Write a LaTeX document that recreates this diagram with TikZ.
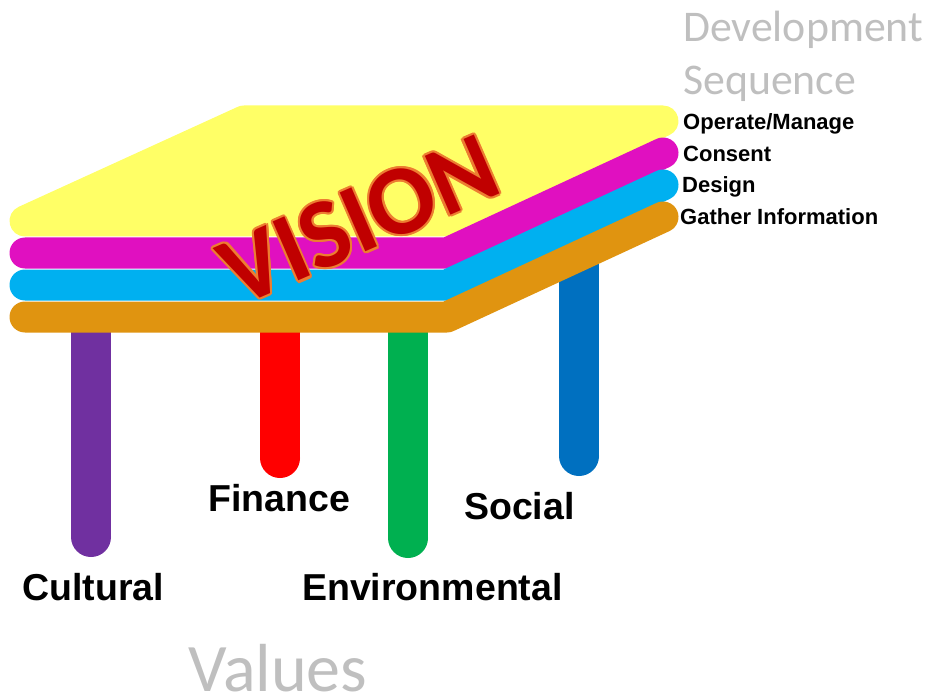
\documentclass[tikz,border=0pt]{standalone}
\usepackage{fontspec}
\setmainfont{Liberation Sans}
\newfontfamily\calfont{Carlito}
\definecolor{cyel}{HTML}{FFFF66}
\definecolor{cmag}{HTML}{E010C0}
\definecolor{ccya}{HTML}{00B0F0}
\definecolor{cora}{HTML}{E09410}
\definecolor{cpur}{HTML}{7030A0}
\definecolor{cred}{HTML}{FF0000}
\definecolor{cgrn}{HTML}{00B050}
\definecolor{cblu}{HTML}{0070C0}
\definecolor{cgry}{HTML}{BFBFBF}
\definecolor{visred}{HTML}{C00000}
\definecolor{visout}{HTML}{ED7D31}
\begin{document}
\begin{tikzpicture}[x=1pt,y=-1pt,
  band/.style={line width=31pt,line cap=round,line join=round},
  leg/.style={line width=40pt,line cap=butt},
  lbl/.style={font=\bfseries\fontsize{37.5}{40}\selectfont,anchor=base west,inner sep=0pt},
  seqlbl/.style={font=\bfseries\fontsize{22}{24}\selectfont,anchor=base west,inner sep=0pt},
  greylbl/.style={text=cgry,anchor=base west,inner sep=0pt},
  vis/.style={font=\calfont\bfseries\fontsize{99}{104}\selectfont,rotate=23.5,inner sep=0pt}]
\useasboundingbox (0,0) rectangle (929,695);
% legs
\draw[leg,draw=cpur] (91,325) -- (91,537);
\fill[cpur] (91,537) circle (20);
\draw[leg,draw=cred] (280,325) -- (280,458);
\fill[cred] (280,458) circle (20);
\draw[leg,draw=cgrn] (408,325) -- (408,538);
\fill[cgrn] (408,538) circle (20);
\draw[leg,draw=cblu] (579,258) -- (579,456);
\fill[cblu] (579,456) circle (20);
% layers
\draw[band,draw=cyel,fill=cyel] (25,221) -- (447,221) -- (663,121) -- (244,121) -- cycle;
\draw[band,draw=cmag] (25,253) -- (447,253) -- (663,153);
\draw[band,draw=ccya] (25,285) -- (447,285) -- (663,185);
\draw[band,draw=cora] (25,317) -- (447,317) -- (663,217);
% VISION
\foreach \a in {0,30,...,330}
  \node[vis,text=visout,xshift={2.2*cos(\a)},yshift={2.2*sin(\a)}] (visout\a) at (359,220) {VISION};
\node[vis,text=visred] (vision) at (359,220) {VISION};
% sequence labels
\node[seqlbl] (operate) at (683,130) {Operate/Manage};
\node[seqlbl] (consent) at (683,162) {Consent};
\node[seqlbl] (design) at (682,193) {Design};
\node[seqlbl] (gather) at (680,225) {Gather Information};
\node[greylbl,font=\calfont\fontsize{43.8}{53}\selectfont] (dev) at (683,42) {Development};
\node[greylbl,font=\calfont\fontsize{43.8}{53}\selectfont] (seq) at (683,95) {Sequence};
% value labels
\node[lbl] (cultural) at (22,600) {Cultural};
\node[lbl] (finance) at (208,511) {Finance};
\node[lbl] (social) at (464,519) {Social};
\node[lbl] (env) at (302,600) {Environmental};
\node[greylbl,font=\calfont\fontsize{68}{70}\selectfont] (values) at (188,691) {Values};
\end{tikzpicture}
\end{document}
